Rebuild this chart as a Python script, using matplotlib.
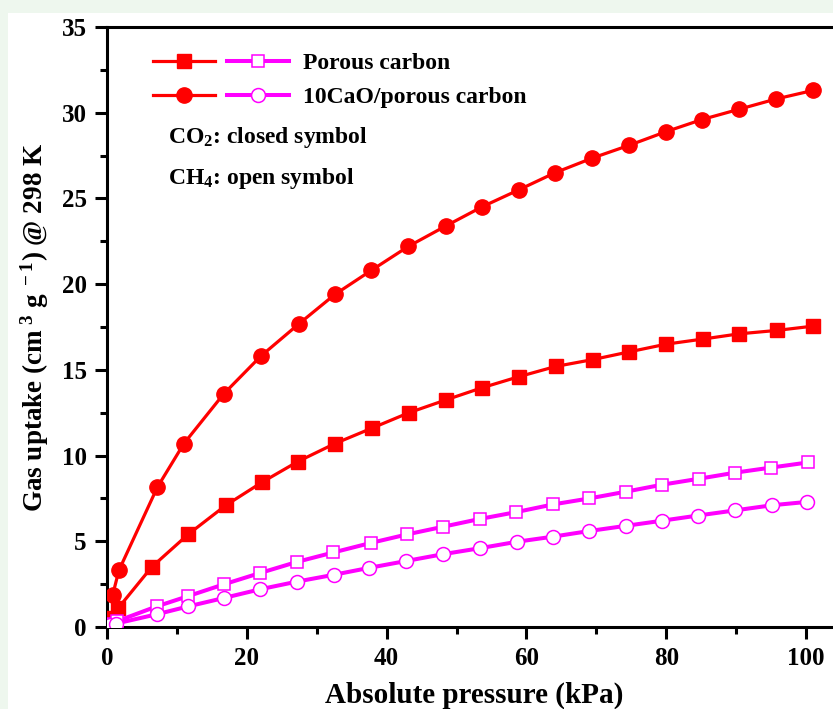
import matplotlib
matplotlib.use('Agg')

import numpy as np
import matplotlib.pyplot as plt
from matplotlib.patches import Rectangle
from matplotlib.legend_handler import HandlerTuple
from matplotlib.ticker import MultipleLocator

plt.rcParams['font.family'] = ['Liberation Serif', 'DejaVu Serif']
plt.rcParams['font.weight'] = 'bold'
plt.rcParams['mathtext.fontset'] = 'custom'
plt.rcParams['mathtext.rm'] = 'Liberation Serif:bold'
plt.rcParams['mathtext.bf'] = 'Liberation Serif:bold'
plt.rcParams['mathtext.it'] = 'Liberation Serif:bold'

# porous carbon, CO2 (closed squares)
pc_co2_p = [0.5, 1.6, 6.4, 11.6, 17.0, 22.2, 27.3, 32.6, 37.9, 43.2, 48.5,
            53.6, 58.9, 64.2, 69.5, 74.7, 80.0, 85.3, 90.4, 95.8, 101.0]
pc_co2_q = [0.5, 1.1, 3.5, 5.4, 7.1, 8.45, 9.65, 10.7, 11.6, 12.5, 13.25,
            13.95, 14.6, 15.2, 15.6, 16.05, 16.5, 16.8, 17.1, 17.3, 17.55]

# 10CaO/porous carbon, CO2 (closed circles)
cao_co2_p = [0.8, 1.7, 7.2, 11.0, 16.7, 22.0, 27.5, 32.6, 37.8, 43.1, 48.5,
             53.6, 58.9, 64.1, 69.4, 74.7, 80.0, 85.1, 90.4, 95.7, 101.0]
cao_co2_q = [1.85, 3.3, 8.15, 10.7, 13.6, 15.8, 17.7, 19.4, 20.8, 22.2, 23.4,
             24.5, 25.5, 26.5, 27.35, 28.1, 28.9, 29.6, 30.2, 30.8, 31.3]

# porous carbon, CH4 (open squares)
pc_ch4_p = [0.5, 1.5, 7.1, 11.6, 16.8, 21.9, 27.2, 32.4, 37.7, 42.9, 48.1,
            53.3, 58.5, 63.8, 69.0, 74.3, 79.4, 84.7, 89.8, 95.0, 100.3]
pc_ch4_q = [0.15, 0.35, 1.2, 1.8, 2.5, 3.15, 3.8, 4.35, 4.9, 5.4, 5.85,
            6.3, 6.7, 7.15, 7.5, 7.9, 8.3, 8.65, 9.0, 9.3, 9.6]

# 10CaO/porous carbon, CH4 (open circles)
cao_ch4_p = [0.5, 1.3, 7.2, 11.6, 16.8, 21.9, 27.2, 32.5, 37.5, 42.8, 48.1,
             53.4, 58.6, 63.8, 69.0, 74.2, 79.4, 84.5, 89.8, 95.1, 100.2]
cao_ch4_q = [0.1, 0.2, 0.75, 1.2, 1.7, 2.2, 2.65, 3.05, 3.45, 3.85, 4.25,
             4.6, 4.97, 5.27, 5.6, 5.9, 6.2, 6.5, 6.8, 7.1, 7.3]

RED = '#ff0000'
MAG = '#ff00ff'

fig = plt.figure(figsize=(8.33, 7.09), dpi=100, facecolor='#eef7ee')
fig.patches.append(Rectangle((8 / 833, 0), 1, 1 - 13 / 709, transform=fig.transFigure,
                             facecolor='white', edgecolor='none', zorder=-10))

ax = fig.add_axes([107 / 833, 82 / 709, 734 / 833, 600 / 709])

l1, = ax.plot(pc_co2_p, pc_co2_q, color=RED, lw=2.3, marker='s', ms=10.5,
              mfc=RED, mec=RED, zorder=3)
l2, = ax.plot(cao_co2_p, cao_co2_q, color=RED, lw=2.3, marker='o', ms=11,
              mfc=RED, mec=RED, zorder=3)
l3, = ax.plot(pc_ch4_p, pc_ch4_q, color=MAG, lw=2.9, marker='s', ms=9,
              mfc='white', mec=MAG, mew=1.1, zorder=4)
l4, = ax.plot(cao_ch4_p, cao_ch4_q, color=MAG, lw=2.9, marker='o', ms=10,
              mfc='white', mec=MAG, mew=1.1, zorder=4)

ax.set_xlim(0, 105)
ax.set_ylim(0, 35)
ax.xaxis.set_major_locator(MultipleLocator(20))
ax.xaxis.set_minor_locator(MultipleLocator(10))
ax.yaxis.set_major_locator(MultipleLocator(5))
ax.yaxis.set_minor_locator(MultipleLocator(2.5))

for s in ax.spines.values():
    s.set_linewidth(2.2)
ax.tick_params(which='major', direction='out', length=8.5, width=2.2,
               labelsize=18, pad=6)
ax.tick_params(which='minor', direction='out', length=5, width=2.2)
ax.tick_params(top=False, right=False)

ax.set_xlabel('Absolute pressure (kPa)', fontsize=21, fontweight='bold', labelpad=8)
ax.set_ylabel(r'Gas uptake (cm$^{\ 3}$ g$^{\ -1}$) @ 298 K', fontsize=19.5,
              fontweight='bold', labelpad=8)

leg = ax.legend([(l1, l3), (l2, l4)], ['Porous carbon', '10CaO/porous carbon'],
                handler_map={tuple: HandlerTuple(ndivide=None, pad=0.5)},
                loc='upper left', bbox_to_anchor=(0.0627, 0.957), frameon=False,
                borderpad=0, borderaxespad=0,
                handlelength=5.76, handletextpad=0.6, labelspacing=0.51,
                prop={'family': 'Liberation Serif', 'weight': 'bold', 'size': 17})

ax.text(0.083, 0.815, r'CO$_{2}$: closed symbol', transform=ax.transAxes,
        fontsize=17, fontweight='bold', va='center')
ax.text(0.083, 0.748, r'CH$_{4}$: open symbol', transform=ax.transAxes,
        fontsize=17, fontweight='bold', va='center')

fig.savefig('out.png', dpi=100, facecolor=fig.get_facecolor())
